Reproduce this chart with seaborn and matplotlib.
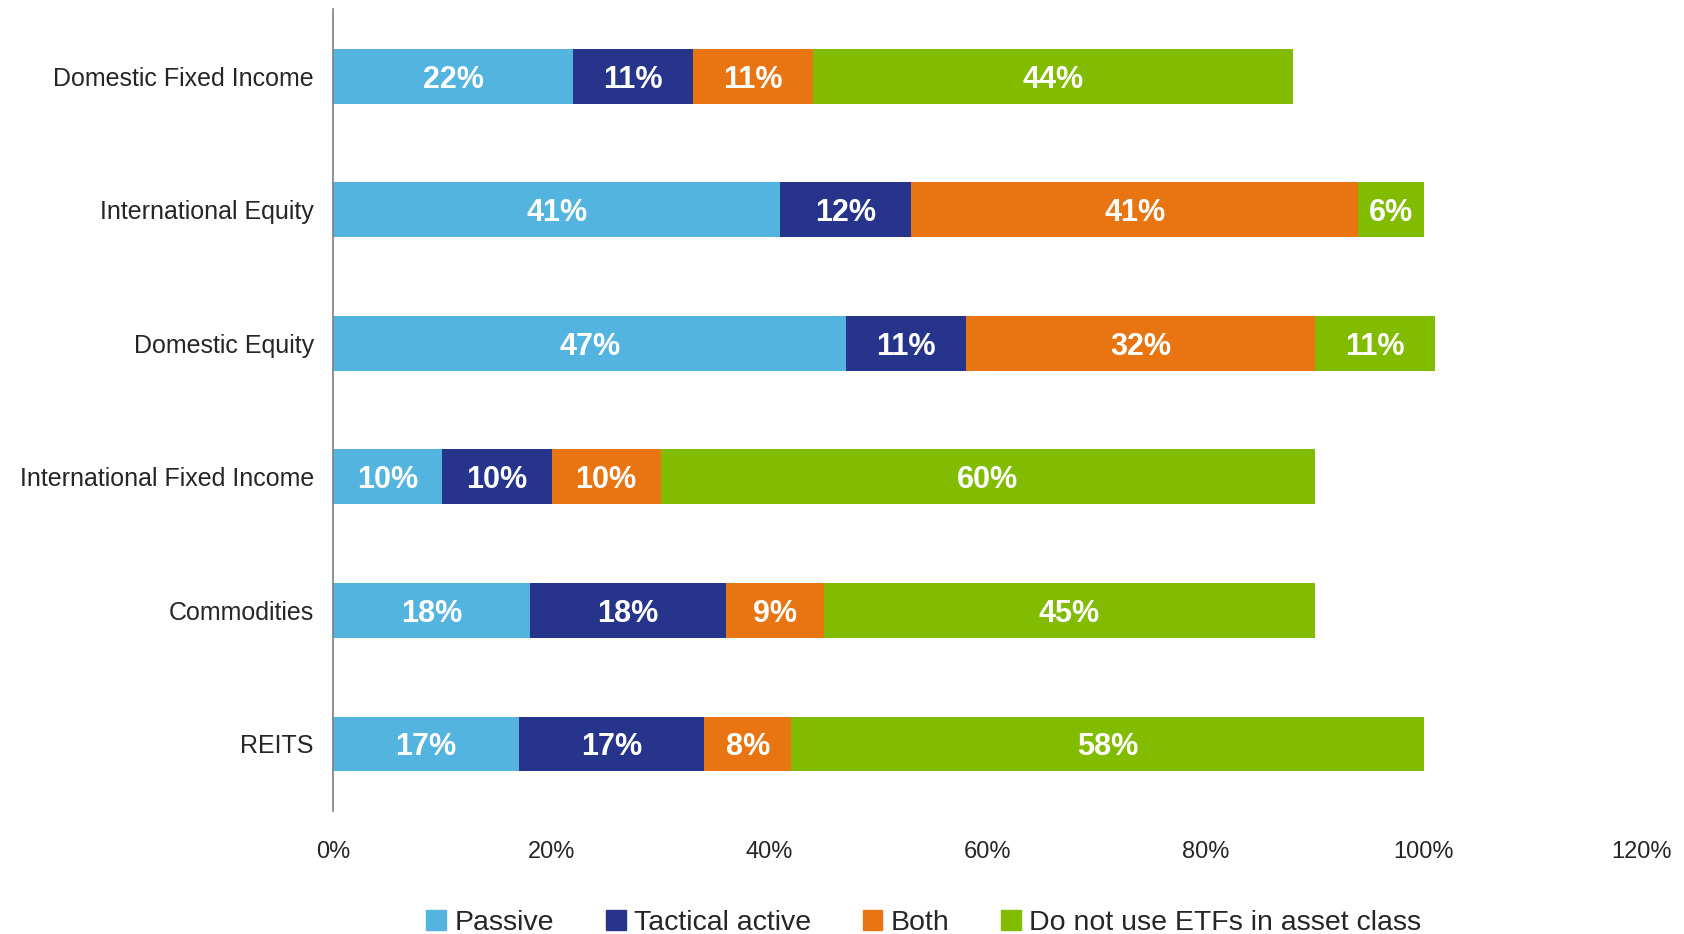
import numpy as np
import pandas as pd
import seaborn as sns
import matplotlib.pyplot as plt
from matplotlib.patches import Patch

categories = ['Domestic Fixed Income', 'International Equity', 'Domestic Equity',
              'International Fixed Income', 'Commodities', 'REITS']
series = ['Passive', 'Tactical active', 'Both', 'Do not use ETFs in asset class']
passive = [22, 41, 47, 10, 18, 17]
tactical = [11, 12, 11, 10, 18, 17]
both = [11, 41, 32, 10, 9, 8]
no_etf = [44, 6, 11, 60, 45, 58]
colors = ['#54B4E0', '#27348B', '#E87511', '#82BC00']
xticks = [0, 20, 40, 60, 80, 100, 120]

sns.set_theme(style='white')
plt.rcParams['font.family'] = ['Liberation Sans', 'DejaVu Sans']

df = pd.DataFrame({'cat': categories, 'Passive': passive, 'Tactical active': tactical,
                   'Both': both, 'Do not use ETFs in asset class': no_etf})
vals = df[series].to_numpy(dtype=float)
cum = vals.cumsum(axis=1)

fig = plt.figure(figsize=(16.84, 9.34), dpi=100)
ax = fig.add_axes([0.198, 0.132, 0.777, 0.858])

# stacked bars: draw cumulative totals from the outside in
for i in reversed(range(len(series))):
    sns.barplot(x=cum[:, i], y=df['cat'], color=colors[i], orient='h',
                width=0.41, saturation=1, ax=ax, order=categories,
                linewidth=0, edgecolor=colors[i])

for r in range(len(categories)):
    for i in range(len(series)):
        left = cum[r, i] - vals[r, i]
        ax.text(left + vals[r, i] / 2, r, f'{int(vals[r, i])}%', ha='center',
                va='center_baseline', color='white', fontsize=22, fontweight='bold')

ax.set_xlim(0, 120)
ax.set_ylim(5.5, -0.5)
ax.set_xticks(xticks)
ax.set_xticklabels([f'{t}%' for t in xticks], fontsize=17)
ax.tick_params(axis='y', labelsize=18, length=0, pad=14)
ax.tick_params(axis='x', length=0, pad=22)
ax.set_xlabel('')
ax.set_ylabel('')
for s in ['top', 'right', 'bottom']:
    ax.spines[s].set_visible(False)
ax.spines['left'].set_color('#808080')
ax.spines['left'].set_linewidth(1.2)

handles = [Patch(color=c, label=s) for c, s in zip(colors, series)]
fig.legend(handles=handles, loc='center', bbox_to_anchor=(924 / 1684, 1 - 923 / 934),
           ncol=4, frameon=False, fontsize=20.5, handlelength=0.7, handleheight=0.7,
           handletextpad=0.3, columnspacing=1.8)

fig.savefig('out.png', dpi=100)
